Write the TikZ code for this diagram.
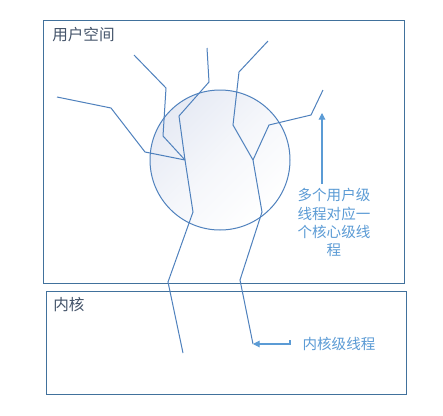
\documentclass[tikz,border=0pt]{standalone}
\usepackage{fontspec}
\newfontfamily\cjk{Noto Sans CJK SC}
\usepackage{tikz}
\usetikzlibrary{arrows.meta,shadows}
\definecolor{boxblue}{HTML}{41719C}
\definecolor{threadblue}{HTML}{4F81BD}
\definecolor{noteblue}{HTML}{5B9BD5}
\definecolor{titlegray}{HTML}{44546A}
\definecolor{ballfill}{HTML}{E6EAF4}
\tikzset{
	spacebox/.style={draw=boxblue,line width=0.75pt,fill=white,
		drop shadow={shadow xshift=0.8pt,shadow yshift=-0.8pt,fill=boxblue!25,opacity=0.5}},
	thread/.style={draw=threadblue,line width=0.75pt},
	ball/.style={draw=threadblue,line width=0.75pt,top color=ballfill,bottom color=white,
		middle color=ballfill!40,shading angle=45},
	notearrow/.style={-{Triangle[length=5pt,width=5pt]},draw=noteblue,line width=0.8pt},
	title/.style={anchor=west,inner sep=0pt,text=titlegray,font=\cjk\fontsize{11.7}{13}\selectfont},
	note/.style={inner sep=0pt,text=noteblue,align=center,font=\cjk\fontsize{10.9}{12.4}\selectfont}
}

\begin{document}
\begin{tikzpicture}[x=0.75pt,y=-0.75pt]
	\useasboundingbox (0,0) rectangle (443,415);
	% two spaces
	\draw[spacebox] (43,20) rectangle (404,283);
	\draw[spacebox] (46,291) rectangle (406,394);
	\node[title] (user) at (52,35) {用户空间};
	\node[title] (kernel) at (53,305) {内核};
	% kernel thread ball
	\path[ball] (220,160) circle[radius=52.5pt];
	% junctions
	\coordinate (j1) at (185,160);
	\coordinate (j2) at (253,160);
	\coordinate (kend) at (253,344);
	% user threads
	\draw[thread] (57,97) -- (111,108) -- (145,152) -- (j1);
	\draw[thread] (134,55) -- (166,88) -- (163,136) -- (j1);
	\draw[thread] (207,48) -- (209,82) -- (179,116) -- (j1) -- (193,212) -- (168,282) -- (183,353);
	\draw[thread] (268,41) -- (239,72) -- (233,125) -- (j2) -- (262,212) -- (240,280) -- (kend);
	\draw[thread] (323,90) -- (311,115) -- (269,125) -- (j2);
	% notes
	\node[note] (many) at (334,222.5) {多个用户级\\[1.2pt]线程对应一\\[1.2pt]个核心级线\\[1.2pt]程};
	\node[note] (kthread) at (339,344) {内核级线程};
	\coordinate (ustart) at (322,184);
	\coordinate (utip) at (322,113);
	\coordinate (kstart) at (290,340);
	\draw[notearrow] (ustart) -- (utip);
	\draw[notearrow] (kstart) |- (kend);
\end{tikzpicture}
\end{document}
